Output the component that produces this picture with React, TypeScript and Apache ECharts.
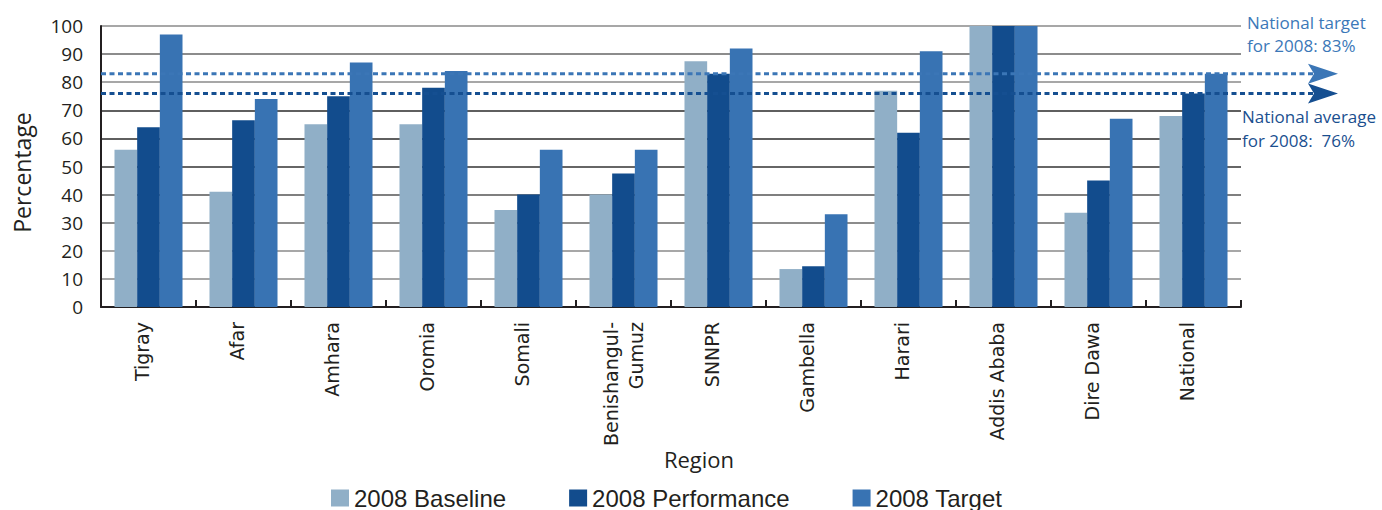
import React, { useEffect, useRef } from "react";
import * as echarts from "echarts";

const categories = [
  "Tigray",
  "Afar",
  "Amhara",
  "Oromia",
  "Somali",
  "Benishangul-\nGumuz",
  "SNNPR",
  "Gambella",
  "Harari",
  "Addis Ababa",
  "Dire Dawa",
  "National",
];
const baseline = [56, 41, 65, 65, 34.5, 40, 87.5, 13.5, 77, 100, 33.5, 68];
const performance = [64, 66.5, 75, 78, 40, 47.5, 83, 14.5, 62, 100, 45, 76];
const target = [97, 74, 87, 84, 56, 56, 92, 33, 91, 100, 67, 83];
const nationalTarget = 83;
const nationalAverage = 76;
const yTicks = [0, 10, 20, 30, 40, 50, 60, 70, 80, 90, 100];

const C_BASE = "#90afc7";
const C_PERF = "#124c8d";
const C_TARGET = "#3873b3";
const C_TEXT = "#231f20";

const GRID_LEFT = 101;
const GRID_RIGHT = 141;
const GRID_TOP = 26;
const GRID_BOTTOM = 203;
const W = 1382;

export default function App() {
  const ref = useRef<HTMLDivElement>(null);
  useEffect(() => {
    if (!ref.current) return;
    const chart = echarts.init(ref.current, null, { renderer: "svg" });
    const splitColors = ["#888", "#8a8a8a", "#8a8a8a", "#666", "#555", "#333", "#2a2a2a", "#2a2a2a", "#8a8a8a", "#666", "#8a8a8a"];
    const option: any = {
      animation: false,
      grid: { left: GRID_LEFT, right: GRID_RIGHT, top: GRID_TOP, bottom: GRID_BOTTOM, containLabel: false },
      legend: {
        data: ["2008 Baseline", "2008 Performance", "2008 Target"],
        left: 326,
        top: 481,
        itemWidth: 18,
        itemHeight: 17,
        itemGap: 63,
        icon: "rect",
        textStyle: { fontFamily: "Liberation Sans", fontSize: 24, color: C_TEXT },
      },
      xAxis: {
        type: "category",
        data: categories,
        name: "Region",
        nameLocation: "middle",
        nameGap: 141,
        nameMoveOverlap: false,
        nameTextStyle: { fontFamily: "Open Sans", fontSize: 22, color: C_TEXT, padding: [0, 0, 0, 56] },
        axisLine: { show: true, lineStyle: { color: C_TEXT, width: 2 } },
        axisTick: { show: true, inside: true, length: 7, lineStyle: { color: C_TEXT, width: 2 } },
        axisLabel: {
          rotate: 90,
          interval: 0,
          margin: 15,
          color: C_TEXT,
          formatter: (v: string) =>
            v.indexOf("\n") >= 0
              ? v.split("\n").map((s) => `{a|${s}}`).join("\n")
              : `{a|${v}}\n{s| }`,
          rich: {
            a: { fontFamily: "DejaVu Sans", fontSize: 19, lineHeight: 25, color: C_TEXT },
            s: { fontFamily: "DejaVu Sans", fontSize: 4, lineHeight: 14 },
          },
        },
      },
      yAxis: {
        type: "value",
        min: yTicks[0],
        max: yTicks[yTicks.length - 1],
        interval: 10,
        name: "Percentage",
        nameLocation: "middle",
        nameGap: 68,
        nameTextStyle: { fontFamily: "Open Sans", fontSize: 23, color: C_TEXT, padding: [0, 12, 0, 0] },
        axisLine: { show: true, lineStyle: { color: C_TEXT, width: 2 } },
        axisTick: { show: false },
        axisLabel: { margin: 18, fontFamily: "Open Sans", fontSize: 19, color: C_TEXT },
        splitLine: { show: true, lineStyle: { color: splitColors, width: 1.5 } },
      },
      series: [
        {
          name: "2008 Baseline",
          type: "bar",
          data: baseline,
          itemStyle: { color: C_BASE },
          barGap: "0%",
          barCategoryGap: "28.4%",
        },
        {
          name: "2008 Performance",
          type: "bar",
          data: performance,
          itemStyle: { color: C_PERF },
          barGap: "0%",
          barCategoryGap: "28.4%",
        },
        {
          name: "2008 Target",
          type: "bar",
          data: target,
          itemStyle: { color: C_TARGET },
          barGap: "0%",
          barCategoryGap: "28.4%",
        },
      ],
    };
    chart.setOption(option);

    const yT = chart.convertToPixel({ yAxisIndex: 0 }, nationalTarget) as number;
    const yA = chart.convertToPixel({ yAxisIndex: 0 }, nationalAverage) as number;
    const xStart = GRID_LEFT;
    const xEndPlot = W - GRID_RIGHT;
    const arrowTip = xEndPlot + 97;
    const arrowBack = xEndPlot + 67;
    const notch = xEndPlot + 73;

    const refLine = (y: number, color: string) => [
      {
        type: "line",
        z: 100,
        shape: { x1: xStart, y1: y, x2: notch, y2: y },
        style: { stroke: color, lineWidth: 3, lineDash: [5, 3.5] },
      },
      {
        type: "polygon",
        z: 101,
        shape: {
          points: [
            [arrowTip, y],
            [arrowBack, y - 10],
            [notch, y],
            [arrowBack, y + 10],
          ],
        },
        style: { fill: color },
      },
    ];

    chart.setOption({
      graphic: [
        ...refLine(yT, "#3b76b6"),
        ...refLine(yA, "#154f91"),
        {
          type: "text",
          z: 102,
          left: xEndPlot + 6,
          top: 11,
          style: {
            text: "National target\nfor 2008: 83%",
            fontFamily: "Open Sans",
            fontSize: 17,
            lineHeight: 23,
            fill: "#3b78b8",
          },
        },
        {
          type: "text",
          z: 102,
          left: xEndPlot + 1,
          top: 104,
          style: {
            text: "National average\nfor 2008:  76%",
            fontFamily: "Open Sans",
            fontSize: 17,
            lineHeight: 24,
            fill: "#1a4f8f",
          },
        },
      ],
    });

    return () => chart.dispose();
  }, []);
  return (
    <div
      ref={ref}
      style={{ position: "fixed", left: 0, top: 0, width: 1382, height: 510, background: "#fff" }}
    />
  );
}
